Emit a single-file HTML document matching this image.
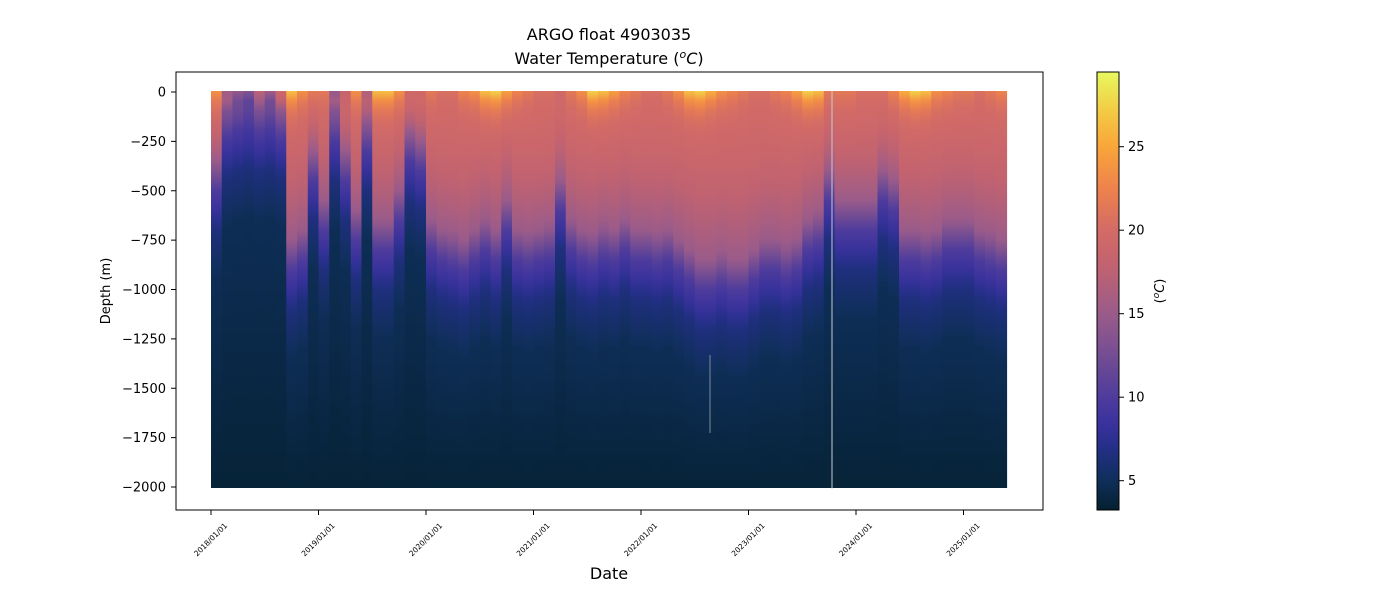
<!DOCTYPE html>
<html><head><meta charset="utf-8">
<style>
html,body{margin:0;padding:0;background:#fff;}
svg{display:block;font-family:"DejaVu Sans","Liberation Sans",sans-serif;}
</style></head>
<body>
<svg id="chart" width="1400" height="600" viewBox="0 0 1400 600" xmlns="http://www.w3.org/2000/svg">
  <defs id="defs"></defs>
  <text x="609" y="40" font-size="16" text-anchor="middle" fill="#000">ARGO float 4903035</text>
  <text x="609" y="64" font-size="16" text-anchor="middle" fill="#000">Water Temperature (<tspan font-style="italic" dy="-6" font-size="11">o</tspan><tspan font-style="italic" dy="6">C</tspan>)</text>
  <g id="plot"></g>
  <rect x="176" y="72" width="867" height="438" fill="none" stroke="#000" stroke-width="1"/>
  <g id="yaxis"></g>
  <g id="xaxis"></g>
  <text transform="translate(110,291) rotate(-90)" font-size="13" text-anchor="middle">Depth (m)</text>
  <text x="609" y="579" font-size="16" text-anchor="middle">Date</text>
  <rect id="cbar" x="1097" y="72" width="22" height="438" stroke="#000" stroke-width="1"/>
  <g id="cbaxis"></g>
  <text transform="translate(1164,291) rotate(-90)" font-size="13" text-anchor="middle">(<tspan font-style="italic" dy="-5" font-size="9">o</tspan><tspan font-style="italic" dy="5">C</tspan>)</text>
</svg>
<script>
// ---- data ----
const startYear = 2018.0;
const stepYear = 0.1;
const d15Depth = [350,80,50,30,60,40,80,750,700,300,
  550,100,300,600,150,650,650,500,200,250,
  650,700,720,750,700,650,700,550,700,720,
  700,680,450,650,700,720,680,700,650,700,
  700,720,700,750,800,850,850,820,850,850,
  800,750,750,780,750,650,620,400,550,550,
  550,550,400,450,700,700,720,700,650,650,
  650,700,720,750];
const surfaceTemp = [24,16,15,14,18,16,20,27,24,22,
  22,15,19,24,17,27,27,24,20,20,
  22,21,21,23,24,27,28,25,23,22,
  21,21,20,22,24,28,27,25,23,22,
  21,21,22,24,27,28,26,24,23,22,
  21,21,22,23,25,28,27,22,22,22,
  21,21,21,23,26,28,27,24,23,22,
  22,21,22,23];
const yTicks = [0,-250,-500,-750,-1000,-1250,-1500,-1750,-2000];
const xTickYears = [2018,2019,2020,2021,2022,2023,2024,2025];
const xTickLabels = ["2018/01/01","2019/01/01","2020/01/01","2021/01/01","2022/01/01","2023/01/01","2024/01/01","2025/01/01"];
const cbTicks = [5,10,15,20,25];
const cmapT = [3.25,5,7,8.5,10,12.5,15,18,20,22.5,25,27,29.47];
const cmapC = ["#04202f","#0f2f5a","#242f88","#3b329e","#4e3c9c","#744d93","#9a5b8a","#c3636f","#d36b66","#ee824c","#f9a63a","#f4c843","#e7f95e"];

// ---- scales ----
const xS = y => 211 + (y - 2018) * 107.5;
const yS = d => 92 + (-d) * 0.1975;
const cbS = t => 480.7 - (t - 5) * 16.7;
const NS = "http://www.w3.org/2000/svg";
function hex(c){return [1,3,5].map(i=>parseInt(c.substr(i,2),16));}
function cmap(t){
  t = Math.max(cmapT[0], Math.min(cmapT[cmapT.length-1], t));
  for(let i=0;i<cmapT.length-1;i++){
    if(t<=cmapT[i+1]){
      const f=(t-cmapT[i])/(cmapT[i+1]-cmapT[i]);
      const a=hex(cmapC[i]), b=hex(cmapC[i+1]);
      return "rgb("+a.map((v,k)=>Math.round(v+(b[k]-v)*f)).join(",")+")";
    }
  }
  return cmapC[cmapC.length-1];
}
function tempAt(z, d15, sst){
  let base;
  if(z < d15){ const u=z/d15; base = 15 + 4.5*(1-u*u); }
  else {
    const off=[0,150,350,600,2000-d15+1], tv=[15,10,6.5,4.8,3.6];
    const o=z-d15; base=3.6;
    for(let i=0;i<off.length-1;i++){ if(o<=off[i+1]){ base=tv[i]+(tv[i+1]-tv[i])*(o-off[i])/(off[i+1]-off[i]); break; } }
  }
  return base + (sst-20)*Math.exp(-z/80);
}
function el(tag, attrs, parent){const e=document.createElementNS(NS,tag);for(const k in attrs)e.setAttribute(k,attrs[k]);parent.appendChild(e);return e;}

const defs=document.getElementById('defs');
const plot=document.getElementById('plot');
d15Depth.forEach((d15,i)=>{
  const sst=surfaceTemp[i];
  const g=el('linearGradient',{id:'g'+i,x1:0,y1:0,x2:0,y2:1},defs);
  for(let z=0; z<=2000; z+=50){
    el('stop',{offset:(z/2000).toFixed(3),'stop-color':cmap(tempAt(z,d15,sst))},g);
  }
  const x0=xS(startYear+i*stepYear), x1=xS(startYear+(i+1)*stepYear);
  const r=el('rect',{x:x0.toFixed(2),y:yS(0)-1,width:(x1-x0+0.6).toFixed(2),height:yS(-2000)-yS(0)+2,fill:'url(#g'+i+')'},plot);
  
  
});
const gap=el('line',{x1:832,y1:91,x2:832,y2:489,stroke:'#c8ccd2','stroke-width':1},plot);


const gap2=el('line',{x1:710,y1:355,x2:710,y2:433,stroke:'#7d8a99','stroke-width':1},plot);



const ya=document.getElementById('yaxis');
yTicks.forEach(v=>{
  const y=yS(v);
  el('line',{x1:171,y1:y,x2:176,y2:y,stroke:'#000'},ya);
  const t=el('text',{x:166,y:y+4.5,'font-size':13,'text-anchor':'end'},ya);
  t.textContent=(v<0?'\u2212':'')+Math.abs(v);
  
  
});
const xa=document.getElementById('xaxis');
xTickYears.forEach((yr,i)=>{
  const x=xS(yr);
  el('line',{x1:x,y1:510,x2:x,y2:515,stroke:'#000'},xa);
  const t=el('text',{x:x,y:542,'font-size':7.5,'text-anchor':'middle',transform:'rotate(-45 '+x+' 540)'},xa);
  t.textContent=xTickLabels[i];
  
  
});
const cg=el('linearGradient',{id:'cbg',x1:0,y1:1,x2:0,y2:0},defs);
cmapT.forEach((t,i)=>{
  el('stop',{offset:((cbS(cmapT[0])-cbS(t))/(cbS(cmapT[0])-cbS(cmapT[cmapT.length-1]))).toFixed(3),'stop-color':cmapC[i]},cg);
});
document.getElementById('cbar').setAttribute('fill','url(#cbg)');
const cba=document.getElementById('cbaxis');
cbTicks.forEach(v=>{
  const y=cbS(v);
  el('line',{x1:1119,y1:y,x2:1124,y2:y,stroke:'#000'},cba);
  const t=el('text',{x:1128,y:y+4.5,'font-size':13},cba);
  t.textContent=v;
  
  
});
</script>
</body></html>
